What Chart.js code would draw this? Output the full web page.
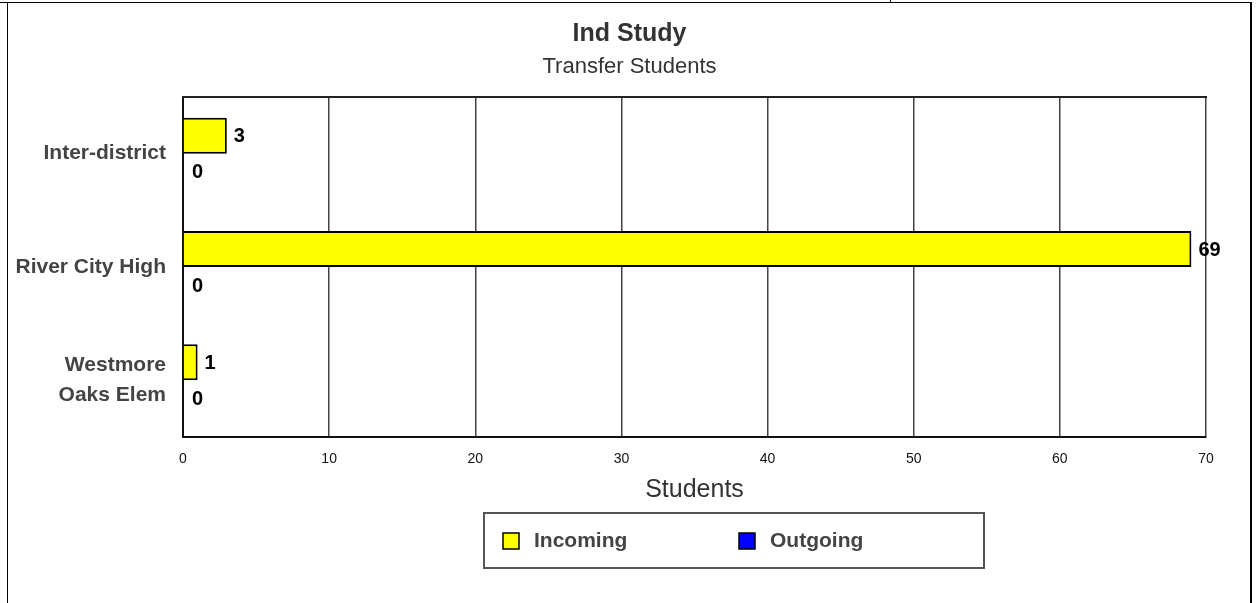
<!DOCTYPE html>
<html>
<head>
<meta charset="utf-8">
<script src="https://cdn.jsdelivr.net/npm/chart.js@4.4.0/dist/chart.umd.min.js"></script>
<style>
  html, body { margin: 0; padding: 0; background: #fff; }
  #wrap { position: relative; width: 1259px; height: 603px; overflow: hidden; }
  #wrap canvas { position: absolute; left: 0; top: 0; }
  .ln { position: absolute; background: #000; }
</style>
</head>
<body>
<div id="wrap">
  <canvas id="chart" width="1259" height="603"></canvas>
  <div class="ln" style="left:0;top:2px;width:1252px;height:1px"></div>
  <div class="ln" style="left:7px;top:2px;width:1px;height:601px"></div>
  <div class="ln" style="left:1250px;top:2px;width:2px;height:601px"></div>
  <div class="ln" style="left:890px;top:0;width:1px;height:3px"></div>
</div>
<script>
const categories = ["Inter-district", "River City High", ["Westmore", "Oaks Elem"]];
const seriesNames = ["Incoming", "Outgoing"];
const incoming = [3, 69, 1];
const outgoing = [0, 0, 0];
const xMax = 70;
const xStep = 10;

const FONT = "'Liberation Sans', Arial, Helvetica, sans-serif";

// value labels at the end of each bar
const barLabels = {
  id: "barLabels",
  afterDatasetsDraw(chart) {
    const ctx = chart.ctx;
    ctx.save();
    ctx.font = "bold 20px " + FONT;
    ctx.fillStyle = "#000";
    ctx.textAlign = "left";
    ctx.textBaseline = "middle";
    chart.data.datasets.forEach((ds, i) => {
      chart.getDatasetMeta(i).data.forEach((bar, j) => {
        const v = ds.data[j];
        ctx.fillText(String(v), bar.x + (v === 0 ? 9 : 7), bar.y + 1);
      });
    });
    ctx.restore();
  }
};

// top edge of the plot frame
const plotFrame = {
  id: "plotFrame",
  afterDraw(chart) {
    const { left, right, top } = chart.chartArea;
    const ctx = chart.ctx;
    ctx.save();
    ctx.strokeStyle = "#222";
    ctx.lineWidth = 2;
    ctx.beginPath();
    ctx.moveTo(left - 1, top);
    ctx.lineTo(right + 1, top);
    ctx.stroke();
    ctx.restore();
  }
};

// boxed legend under the axis title
const boxLegend = {
  id: "boxLegend",
  afterDraw(chart) {
    const ctx = chart.ctx;
    const bx = 484, by = 513, bw = 500, bh = 55;
    ctx.save();
    ctx.strokeStyle = "#555";
    ctx.lineWidth = 2;
    ctx.strokeRect(bx, by, bw, bh);
    chart.data.datasets.forEach((ds, i) => {
      const x = bx + 19 + i * 236;
      const y = by + 20;
      ctx.fillStyle = ds.backgroundColor;
      ctx.fillRect(x, y, 16, 16);
      ctx.strokeStyle = "#000";
      ctx.lineWidth = 1.5;
      ctx.strokeRect(x, y, 16, 16);
      ctx.fillStyle = "#444";
      ctx.font = "bold 21px " + FONT;
      ctx.textBaseline = "middle";
      ctx.fillText(ds.label, x + 31, y + 8);
    });
    ctx.restore();
  }
};

new Chart(document.getElementById("chart"), {
  type: "bar",
  data: {
    labels: categories,
    datasets: [
      { label: seriesNames[0], data: incoming, backgroundColor: "#ffff00", borderColor: "#000", borderWidth: 2 },
      { label: seriesNames[1], data: outgoing, backgroundColor: "#0000ff", borderColor: "#000", borderWidth: 2 }
    ]
  },
  options: {
    indexAxis: "y",
    responsive: false,
    animation: false,
    categoryPercentage: 0.635,
    barPercentage: 1,
    layout: { padding: { left: 0, right: 0, top: 0, bottom: 96 } },
    plugins: {
      legend: { display: false },
      tooltip: { enabled: false },
      title: {
        display: true,
        text: "Ind Study",
        color: "#333",
        font: { family: FONT, size: 25, weight: "bold", lineHeight: 1.2 },
        padding: { top: 19, bottom: 4 }
      },
      subtitle: {
        display: true,
        text: "Transfer Students",
        color: "#333",
        font: { family: FONT, size: 22, lineHeight: 1.2 },
        padding: { top: 1, bottom: 16.6 }
      }
    },
    scales: {
      x: {
        min: 0,
        max: xMax,
        ticks: { stepSize: xStep, color: "#111", padding: 14, font: { family: FONT, size: 14 } },
        grid: { color: "#444", lineWidth: 1.5, drawTicks: false },
        border: { color: "#111", width: 2 },
        title: {
          display: true,
          text: "Students",
          color: "#333",
          font: { family: FONT, size: 25, lineHeight: 1.2 },
          padding: { top: 0, bottom: 2 }
        },
        afterFit(scale) { scale.height = 70; }
      },
      y: {
        ticks: { color: "#444", padding: 17, font: { family: FONT, size: 21, weight: "bold", lineHeight: 1.4 } },
        grid: { display: false, drawTicks: false },
        border: { color: "#111", width: 2 },
        afterFit(scale) { scale.width = 183; }
      },
      // empty right-hand axis that only keeps the right margin
      yRight: {
        type: "category",
        position: "right",
        ticks: { display: false },
        grid: { display: false, drawTicks: false },
        border: { display: false },
        afterFit(scale) { scale.width = 53; }
      }
    }
  },
  plugins: [barLabels, plotFrame, boxLegend]
});
</script>
</body>
</html>
